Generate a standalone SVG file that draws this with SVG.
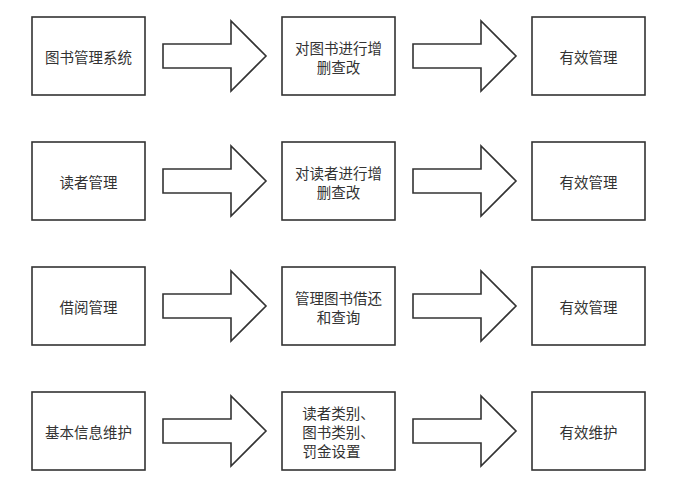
<svg xmlns="http://www.w3.org/2000/svg" width="677" height="484" viewBox="0 0 677 484">
<style>
.box{fill:#fff;stroke:#333;stroke-width:1.6}
.arr{fill:#fff;stroke:#333;stroke-width:1.6;stroke-linejoin:miter}
text{font-family:"Noto Sans CJK SC","Microsoft YaHei",sans-serif;font-size:14.5px;fill:#333;text-anchor:middle;dominant-baseline:central}
</style>
<rect width="677" height="484" fill="#fff"/>
<g id="connectors">
<path class="arr" d="M163,44 H231 V21 L266,56 L231,91 V68 H163 Z"/>
<path class="arr" d="M413,44 H481 V21 L516,56 L481,91 V68 H413 Z"/>
<path class="arr" d="M163,169 H231 V146 L266,181 L231,216 V193 H163 Z"/>
<path class="arr" d="M413,169 H481 V146 L516,181 L481,216 V193 H413 Z"/>
<path class="arr" d="M163,294 H231 V271 L266,306 L231,341 V318 H163 Z"/>
<path class="arr" d="M413,294 H481 V271 L516,306 L481,341 V318 H413 Z"/>
<path class="arr" d="M163,419 H231 V396 L266,431 L231,466 V443 H163 Z"/>
<path class="arr" d="M413,419 H481 V396 L516,431 L481,466 V443 H413 Z"/>
</g>
<g id="n1"><rect class="box" x="32" y="17" width="113" height="78"/><text x="88.5" y="56">图书管理系统</text></g>
<g id="n2"><rect class="box" x="282" y="17" width="113" height="78"/><text x="338.5" y="47">对图书进行增</text><text x="338.5" y="66">删查改</text></g>
<g id="n3"><rect class="box" x="532" y="17" width="113" height="78"/><text x="588.5" y="56">有效管理</text></g>
<g id="n4"><rect class="box" x="32" y="142" width="113" height="78"/><text x="88.5" y="181">读者管理</text></g>
<g id="n5"><rect class="box" x="282" y="142" width="113" height="78"/><text x="338.5" y="172">对读者进行增</text><text x="338.5" y="191">删查改</text></g>
<g id="n6"><rect class="box" x="532" y="142" width="113" height="78"/><text x="588.5" y="181">有效管理</text></g>
<g id="n7"><rect class="box" x="32" y="267" width="113" height="78"/><text x="88.5" y="306">借阅管理</text></g>
<g id="n8"><rect class="box" x="282" y="267" width="113" height="78"/><text x="338.5" y="297">管理图书借还</text><text x="338.5" y="316">和查询</text></g>
<g id="n9"><rect class="box" x="532" y="267" width="113" height="78"/><text x="588.5" y="306">有效管理</text></g>
<g id="n10"><rect class="box" x="32" y="392" width="113" height="78"/><text x="88.5" y="431">基本信息维护</text></g>
<g id="n11"><rect class="box" x="282" y="392" width="113" height="78"/><text x="338.5" y="412">读者类别、</text><text x="338.5" y="431">图书类别、</text><text x="331.5" y="450">罚金设置</text></g>
<g id="n12"><rect class="box" x="532" y="392" width="113" height="78"/><text x="588.5" y="431">有效维护</text></g>
</svg>
